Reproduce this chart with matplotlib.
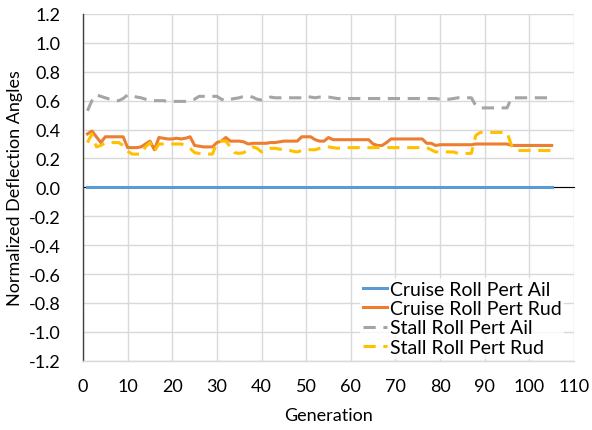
import matplotlib.pyplot as plt
import numpy as np

plt.rcParams['font.family'] = ['Lato', 'DejaVu Sans']

generation = np.arange(1, 106)

cruise_ail = [0.0] * 105

cruise_rud = [0.37, 0.39, 0.35, 0.31, 0.35, 0.35, 0.35, 0.35, 0.35, 0.275,
              0.275, 0.275, 0.28, 0.30, 0.32, 0.26, 0.345, 0.34, 0.335, 0.335,
              0.34, 0.335, 0.34, 0.35, 0.29, 0.285, 0.28, 0.28, 0.28, 0.31,
              0.32, 0.345, 0.32, 0.32, 0.32, 0.315, 0.30, 0.305, 0.305, 0.305,
              0.305, 0.31, 0.31, 0.315, 0.32, 0.32, 0.32, 0.32, 0.35, 0.35,
              0.35, 0.33, 0.32, 0.32, 0.345, 0.33, 0.33, 0.33, 0.33, 0.33,
              0.33, 0.33, 0.33, 0.33, 0.30, 0.29, 0.29, 0.31, 0.335, 0.335,
              0.335, 0.335, 0.335, 0.335, 0.335, 0.335, 0.305, 0.305, 0.29, 0.295,
              0.295, 0.295, 0.295, 0.295, 0.295, 0.295, 0.295, 0.30, 0.30, 0.30,
              0.30, 0.30, 0.30, 0.30, 0.30, 0.29, 0.29, 0.29, 0.29, 0.29,
              0.29, 0.29, 0.29, 0.29, 0.29]

stall_ail = [0.53, 0.60, 0.64, 0.63, 0.62, 0.61, 0.60, 0.60, 0.615, 0.64,
             0.635, 0.625, 0.62, 0.61, 0.60, 0.60, 0.60, 0.60, 0.595, 0.595,
             0.595, 0.595, 0.595, 0.60, 0.61, 0.63, 0.63, 0.63, 0.63, 0.63,
             0.61, 0.60, 0.61, 0.615, 0.62, 0.63, 0.63, 0.625, 0.61, 0.605,
             0.615, 0.625, 0.62, 0.62, 0.62, 0.62, 0.62, 0.62, 0.62, 0.63,
             0.625, 0.62, 0.625, 0.625, 0.625, 0.62, 0.615, 0.615, 0.615, 0.615,
             0.615, 0.615, 0.615, 0.615, 0.615, 0.615, 0.615, 0.615, 0.615, 0.615,
             0.615, 0.615, 0.615, 0.615, 0.615, 0.615, 0.615, 0.615, 0.615, 0.61,
             0.61, 0.61, 0.615, 0.62, 0.62, 0.62, 0.62, 0.565, 0.55, 0.55,
             0.55, 0.55, 0.55, 0.55, 0.55, 0.62, 0.62, 0.62, 0.62, 0.62,
             0.62, 0.62, 0.62, 0.62, 0.62]

stall_rud = [0.31, 0.37, 0.28, 0.29, 0.31, 0.31, 0.31, 0.31, 0.29, 0.25,
             0.23, 0.23, 0.23, 0.28, 0.31, 0.25, 0.30, 0.30, 0.30, 0.30,
             0.30, 0.30, 0.29, 0.27, 0.24, 0.235, 0.23, 0.23, 0.23, 0.31,
             0.32, 0.32, 0.28, 0.24, 0.235, 0.24, 0.26, 0.28, 0.27, 0.245,
             0.26, 0.27, 0.27, 0.265, 0.26, 0.26, 0.25, 0.245, 0.255, 0.265,
             0.26, 0.26, 0.27, 0.28, 0.28, 0.275, 0.27, 0.275, 0.275, 0.275,
             0.275, 0.275, 0.275, 0.275, 0.275, 0.275, 0.275, 0.275, 0.275, 0.275,
             0.275, 0.275, 0.275, 0.275, 0.275, 0.275, 0.275, 0.26, 0.245, 0.245,
             0.245, 0.245, 0.245, 0.235, 0.235, 0.235, 0.235, 0.36, 0.38, 0.38,
             0.38, 0.38, 0.38, 0.38, 0.38, 0.29, 0.255, 0.255, 0.255, 0.255,
             0.255, 0.255, 0.255, 0.255, 0.255]

x_ticks = np.arange(0, 111, 10)
y_ticks = np.round(np.arange(-1.2, 1.21, 0.2), 1)

fig = plt.figure(figsize=(5.92, 4.31), dpi=100)
ax = fig.add_axes([0.1402, 0.1608, 0.8294, 0.8044])

lw = 2.2
ax.plot(generation, cruise_ail, color='#5B9BD5', lw=lw, label='Cruise Roll Pert Ail')
ax.plot(generation, cruise_rud, color='#ED7D31', lw=lw, label='Cruise Roll Pert Rud')
ax.plot(generation, stall_ail, color='#A5A5A5', lw=lw, dashes=(4, 2.5), label='Stall Roll Pert Ail')
ax.plot(generation, stall_rud, color='#FFC000', lw=lw, dashes=(4, 2.5), label='Stall Roll Pert Rud')

ax.set_xlim(0, 110)
ax.set_ylim(-1.2, 1.2)
ax.set_xticks(x_ticks)
ax.set_yticks(y_ticks)
ax.set_yticklabels([f'{v + 0.0:.1f}' if abs(v) > 1e-9 else '0.0' for v in y_ticks])
ax.grid(True, color='#D9D9D9', lw=1)
ax.set_axisbelow(True)

for s in ['top', 'right']:
    ax.spines[s].set_visible(False)
ax.spines['bottom'].set_position(('data', 0))
ax.spines['bottom'].set_zorder(1.5)
ax.spines['bottom'].set_color('black')
ax.spines['bottom'].set_linewidth(0.8)
ax.spines['left'].set_color('#404040')
ax.spines['left'].set_linewidth(1.0)
ax.tick_params(axis='both', length=0, labelsize=13, colors='black')
ax.tick_params(axis='y', pad=16)
# x labels sit below the plot, not at the zero line
ax.xaxis.set_tick_params(labelbottom=False)
for xv in x_ticks:
    ax.annotate(str(xv), (xv, 0), xycoords=('data', 'axes fraction'),
                xytext=(0, -12.5), textcoords='offset points',
                ha='center', va='top', fontsize=13)

ax.set_xlabel('Generation', fontsize=13, labelpad=0)
ax.xaxis.set_label_coords(0.5, -0.133)
ax.set_ylabel('Normalized Deflection Angles', fontsize=13)
ax.yaxis.set_label_coords(-0.122, 0.5)

leg = ax.legend(loc='lower right', bbox_to_anchor=(1.0, -0.022), frameon=True,
                fontsize=14, handlelength=1.2, handletextpad=0.15,
                labelspacing=0.12, borderpad=0.15, fancybox=False)
leg.get_frame().set_edgecolor('none')
leg.get_frame().set_facecolor('white')
leg.set_clip_on(True)
leg.set_clip_box(ax.bbox)
# bottom gridline stays visible under the legend, as in the original
ax.axhline(-1.2, color='#D9D9D9', lw=1, zorder=6, clip_on=False)

fig.savefig('out.png', dpi=100)
